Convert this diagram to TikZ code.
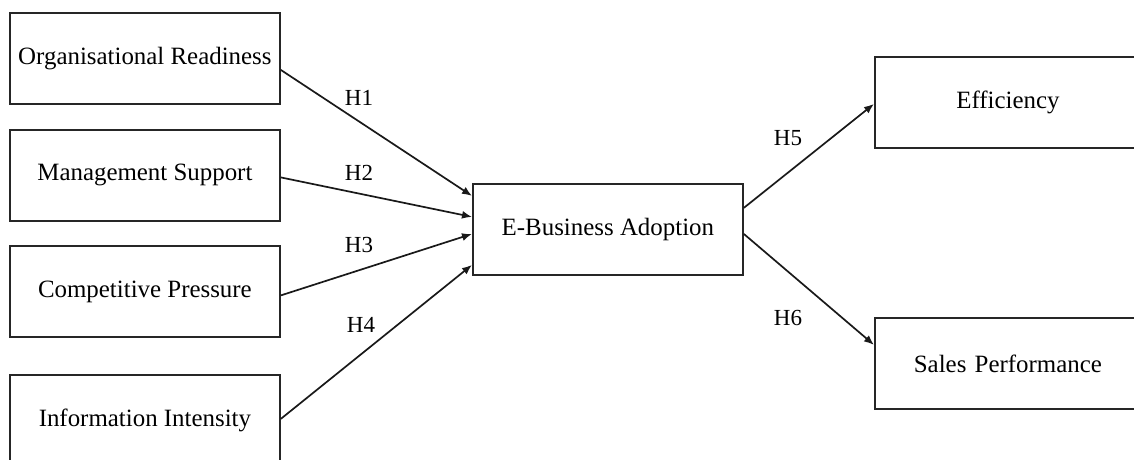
\documentclass[tikz,border=0pt]{standalone}
\usepackage{fontspec}
\setmainfont{Liberation Serif}
\usetikzlibrary{arrows.meta}
\begin{document}
\begin{tikzpicture}[x=1pt,y=-1pt,
  box/.style={draw=black!85,line width=1.8pt,minimum width=270pt,minimum height=91pt,inner sep=0pt,anchor=north west,font=\fontsize{24.9}{30}\selectfont},
  hlab/.style={font=\fontsize{23}{28}\selectfont,inner sep=0pt},
  conn/.style={draw=black!90,line width=1.7pt,-{Latex[length=10pt,width=8pt]}},
  plain/.style={draw=black!90,line width=1.7pt}]
\useasboundingbox (0,0) rectangle (1134,459);
\node[box] (or) at (9,12) {Organisational Readiness};
\node[box] (ms) at (9,129) {Management Support};
\node[box] (cp) at (9,245) {Competitive Pressure};
\node[box] (ii) at (9,374) {Information Intensity};
\node[box] (eb) at (472,183) {E-Business Adoption};
\node[box,minimum width=280pt,text width=260pt,align=center] (ef) at (874,56) {\hspace*{-14pt}Efficiency};
\node[box,minimum width=280pt,text width=260pt,align=center] (sp) at (874,317) {\hspace*{-14pt}Sales Performance};
\draw[conn] ([yshift=-11.5pt]or.east) -- ([yshift=33.5pt]eb.west);
\draw[conn] ([yshift=-2pt]ms.east) -- ([yshift=12.5pt]eb.west);
\draw[conn] ([yshift=-4pt]cp.east) -- ([yshift=-4.5pt]eb.west);
\draw[conn] ([yshift=1.5pt]ii.east) -- ([yshift=-35.5pt]eb.west);
\draw[conn] ([yshift=21.5pt]eb.east) -- ([yshift=-1.5pt]ef.west);
\draw[conn] ([yshift=-4.5pt]eb.east) -- ([yshift=18.5pt]sp.west);
\node[hlab] (h1) at (359,98) {H1};
\node[hlab] (h2) at (359,173) {H2};
\node[hlab] (h3) at (359,245) {H3};
\node[hlab] (h4) at (361,325) {H4};
\node[hlab] (h5) at (788,138) {H5};
\node[hlab] (h6) at (788,318) {H6};
\end{tikzpicture}
\end{document}
